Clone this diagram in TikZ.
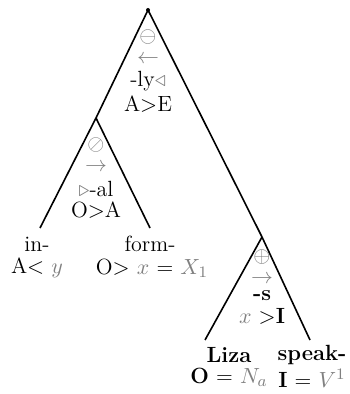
\documentclass[tikz,border=0pt]{standalone}
\usepackage{amsmath,amssymb}
\begin{document}
\begin{tikzpicture}[x=0.5pt,y=-0.5pt,
  br/.style={line width=0.8pt},
  lab/.style={inner sep=0pt,font=\fontsize{11}{13}\selectfont},
  sym/.style={inner sep=0pt,text=gray,align=center,font=\fontsize{11}{10.5}\selectfont}]
\useasboundingbox (0,0) rectangle (349,394);
\coordinate (r) at (148,10);
\coordinate (n2) at (96,118);
\coordinate (n3) at (262,237);
\coordinate (l1) at (40,228);
\coordinate (l2) at (150,228);
\coordinate (l3) at (205,340);
\coordinate (l4) at (310,340);
\fill (r) circle (2);
\draw[br] (r) -- (n2);
\draw[br] (r) -- (n3);
\draw[br] (n2) -- (l1);
\draw[br] (n2) -- (l2);
\draw[br] (n3) -- (l3);
\draw[br] (n3) -- (l4);
% root labels
\node[sym] (r1) at (148,47) {$\ominus$\\$\leftarrow$};
\node[lab] (r3) at (148,81) {-ly{\color{gray}$\triangleleft$}};
\node[lab] (r4) at (148,104) {A$>$E};
% node2 labels
\node[sym] (a1) at (96,155) {$\oslash$\\$\rightarrow$};
\node[lab] (a3) at (96,189) {{\color{gray}$\triangleright$}-al};
\node[lab] (a4) at (96,210) {O$>$A};
% leaves
\node[lab] (b1) at (37,244) {in-};
\node[lab] (b2) at (37,268) {A$<$ {\color{gray}$y$}};
\node[lab] (c1) at (150,244) {form-};
\node[lab] (c2) at (152,268) {O$>$ {\color{gray}$x$} = {\color{gray}$X_1$}};
% node3 labels
\node[sym] (d1) at (262,267) {$\oplus$\\$\rightarrow$};
\node[lab] (d3) at (262,296) {\textbf{-s}};
\node[lab] (d4) at (262,316) {{\color{gray}$x$} $>$\textbf{I}};
\node[lab] (e1) at (229,355) {\textbf{Liza}};
\node[lab] (e2) at (229,377) {\textbf{O} = {\color{gray}$N_a$}};
\node[lab] (f1) at (312,355) {\textbf{speak-}};
\node[lab] (f2) at (312,378) {\textbf{I} = {\color{gray}$V^1$}};
\end{tikzpicture}
\end{document}
